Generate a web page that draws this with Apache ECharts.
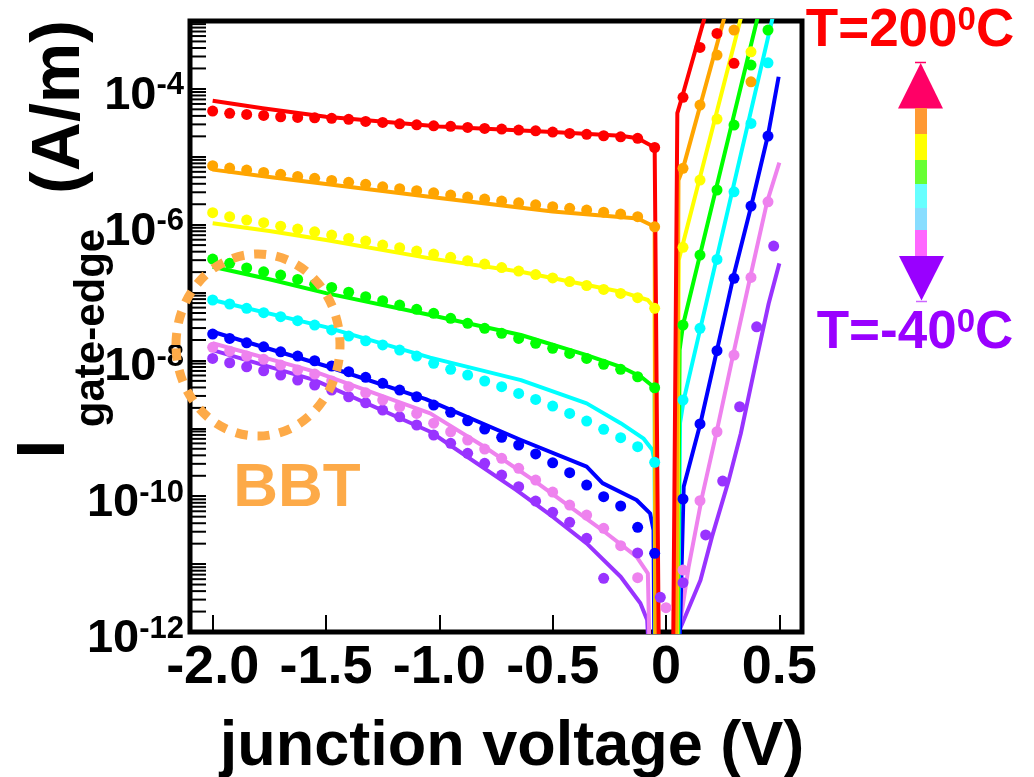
<!DOCTYPE html>
<html><head><meta charset="utf-8">
<script src="https://cdn.jsdelivr.net/npm/echarts@6/dist/echarts.min.js"></script>
<style>html,body{margin:0;padding:0;background:#fff}#c{width:1034px;height:777px}</style>
</head><body><div id="c"></div>
<script>
const FONT = "'Liberation Sans', Arial, sans-serif";
const xTickValues = [-2.0, -1.5, -1.0, -0.5, 0, 0.5];
const xTickLabels = ['-2.0', '-1.5', '-1.0', '-0.5', '0', '0.5'];
const yLabelExponents = [-4, -6, -8, -10, -12];
const minorDecades = [-12, -11, -10, -9, -8, -7, -6, -5, -4];
const minorMultipliers = [2, 3, 4, 5, 6, 7, 8, 9];

// measured voltages, reverse bias
const vRev = [-2.0, -1.925, -1.85, -1.775, -1.7, -1.625, -1.55, -1.475, -1.4, -1.325, -1.25, -1.175, -1.1, -1.025, -0.95, -0.875, -0.8, -0.725, -0.65, -0.575, -0.5, -0.425, -0.35, -0.275, -0.2, -0.125, -0.05];

// T = 200 C (red)
const red_rev = [4.71e-5, 4.36e-5, 4.21e-5, 4.07e-5, 3.88e-5, 3.80e-5, 3.75e-5, 3.68e-5, 3.56e-5, 3.32e-5, 3.21e-5, 3.06e-5, 2.96e-5, 2.86e-5, 2.81e-5, 2.71e-5, 2.62e-5, 2.56e-5, 2.47e-5, 2.41e-5, 2.31e-5, 2.21e-5, 2.14e-5, 2.04e-5, 1.97e-5, 1.87e-5, 1.37e-5];
const red_fwdV = [0.075, 0.15, 0.225, 0.3];
const red_fwdI = [7.5e-5, 4.08e-4, 6.56e-4, 2.38e-4];
const red_simV = [-2.0, -1.78, -1.5, -1.0, -0.5, -0.2, -0.125, -0.05, -0.03, 0.03, 0.05, 0.071, 0.18];
const red_simI = [6.7e-5, 5.2e-5, 3.9e-5, 2.8e-5, 2.31e-5, 2.04e-5, 1.88e-5, 1.37e-5, 1e-13, 1e-13, 4.4e-5, 7.6e-5, 1.46e-3];

// orange
const orange_rev = [7.38e-6, 6.83e-6, 6.37e-6, 5.89e-6, 5.51e-6, 5.14e-6, 4.81e-6, 4.49e-6, 4.20e-6, 3.93e-6, 3.61e-6, 3.38e-6, 3.16e-6, 2.95e-6, 2.73e-6, 2.55e-6, 2.38e-6, 2.23e-6, 2.10e-6, 1.96e-6, 1.84e-6, 1.74e-6, 1.64e-6, 1.53e-6, 1.43e-6, 1.31e-6, 9.3e-7];
const orange_fwdV = [0.075, 0.15, 0.225, 0.3, 0.375];
const orange_fwdI = [6.75e-6, 5.77e-5, 3.15e-4, 7.35e-4, 1.27e-4];
const orange_simV = [-2.0, -1.75, -1.5, -1.0, -0.5, -0.125, -0.05, -0.045, 0.045, 0.055, 0.075, 0.27];
const orange_simI = [6.47e-6, 5.03e-6, 3.96e-6, 2.47e-6, 1.56e-6, 1.23e-6, 9.3e-7, 1e-13, 1e-13, 4.5e-6, 6.75e-6, 1.6e-3];

// yellow
const yellow_rev = [1.50e-6, 1.31e-6, 1.17e-6, 1.07e-6, 9.5e-7, 8.6e-7, 7.85e-7, 7.03e-7, 6.28e-7, 5.73e-7, 5.01e-7, 4.57e-7, 4.08e-7, 3.69e-7, 3.30e-7, 2.94e-7, 2.63e-7, 2.33e-7, 2.07e-7, 1.84e-7, 1.64e-7, 1.45e-7, 1.27e-7, 1.11e-7, 9.7e-8, 8.4e-8, 5.85e-8];
const yellow_fwdV = [0.075, 0.15, 0.225, 0.375];
const yellow_fwdI = [4.64e-7, 4.54e-6, 3.59e-5, 3.52e-4];
const yellow_simV = [-2.0, -1.75, -1.5, -1.04, -0.64, -0.2, -0.08, -0.05, -0.045, 0.048, 0.056, 0.34];
const yellow_simI = [1.05e-6, 8.05e-7, 5.93e-7, 3.19e-7, 2.02e-7, 1.03e-7, 7.76e-8, 5.85e-8, 1e-13, 1e-13, 3.0e-7, 1.48e-3];

// green
const green_rev = [3.11e-7, 2.70e-7, 2.30e-7, 2.02e-7, 1.81e-7, 1.56e-7, 1.32e-7, 1.19e-7, 1.01e-7, 8.67e-8, 7.57e-8, 6.55e-8, 5.66e-8, 4.94e-8, 4.17e-8, 3.52e-8, 2.97e-8, 2.51e-8, 2.11e-8, 1.79e-8, 1.51e-8, 1.27e-8, 1.07e-8, 8.77e-9, 7.40e-9, 5.75e-9, 3.96e-9];
const green_fwdV = [0.075, 0.15, 0.225, 0.3, 0.375, 0.45];
const green_fwdI = [3.32e-8, 3.56e-7, 3.24e-6, 2.93e-5, 2.24e-4, 7.35e-4];
const green_simV = [-2.0, -1.75, -1.5, -1.04, -0.64, -0.35, -0.2, -0.11, -0.05, -0.046, 0.05, 0.06, 0.075, 0.41];
const green_simI = [2.40e-7, 1.57e-7, 9.8e-8, 4.67e-8, 2.37e-8, 1.20e-8, 8.07e-9, 5.75e-9, 3.96e-9, 1e-13, 1e-13, 1.42e-8, 3.32e-8, 1.35e-3];

// cyan
const cyan_rev = [7.77e-8, 6.78e-8, 5.85e-8, 5.05e-8, 4.41e-8, 3.85e-8, 3.32e-8, 2.81e-8, 2.29e-8, 1.95e-8, 1.69e-8, 1.42e-8, 1.16e-8, 9.06e-9, 7.40e-9, 6.10e-9, 4.98e-9, 4.10e-9, 3.27e-9, 2.67e-9, 2.13e-9, 1.66e-9, 1.28e-9, 9.66e-10, 7.28e-10, 5.36e-10, 3.16e-10];
const cyan_fwdV = [0.075, 0.15, 0.225, 0.3, 0.375, 0.45];
const cyan_fwdI = [2.61e-9, 2.97e-8, 3.08e-7, 3.05e-6, 3.10e-5, 2.42e-4];
const cyan_simV = [-2.0, -1.5, -1.04, -0.64, -0.35, -0.2, -0.1, -0.06, -0.05, -0.047, 0.052, 0.062, 0.078, 0.475];
const cyan_simI = [7.77e-8, 3.1e-8, 1.10e-8, 5.14e-9, 2.33e-9, 1.19e-9, 7.13e-10, 4.79e-10, 3.16e-10, 1e-13, 1e-13, 1.2e-9, 2.6e-9, 1.3e-3];

// blue
const blue_rev = [2.45e-8, 2.11e-8, 1.82e-8, 1.59e-8, 1.34e-8, 1.16e-8, 9.9e-9, 8.28e-9, 6.83e-9, 5.64e-9, 4.60e-9, 3.66e-9, 2.92e-9, 2.20e-9, 1.72e-9, 1.29e-9, 9.77e-10, 7.36e-10, 5.68e-10, 4.19e-10, 3.11e-10, 2.22e-10, 1.46e-10, 9.84e-11, 7.18e-11, 3.48e-11, 1.44e-11];
const blue_fwdV = [0.075, 0.15, 0.225, 0.3, 0.375, 0.45];
const blue_fwdI = [9.1e-11, 1.16e-9, 1.39e-8, 1.62e-7, 1.88e-6, 2.02e-5];
const blue_simV = [-2.0, -1.5, -1.06, -0.64, -0.35, -0.28, -0.13, -0.07, -0.055, -0.05, 0.054, 0.078, 0.152, 0.225, 0.299, 0.377, 0.45, 0.497];
const blue_simI = [2.65e-8, 8.28e-9, 2.70e-9, 6.73e-10, 2.72e-10, 1.56e-10, 8.79e-11, 5.60e-11, 3.18e-11, 1e-13, 1e-13, 1.38e-10, 1.19e-9, 1.42e-8, 1.81e-7, 1.95e-6, 2.09e-5, 1.51e-4];

// violet
const violet_rev = [1.56e-8, 1.37e-8, 1.16e-8, 1.04e-8, 8.55e-9, 7.23e-9, 6.31e-9, 4.98e-9, 4.10e-9, 3.34e-9, 2.61e-9, 2.08e-9, 1.66e-9, 1.19e-9, 8.91e-10, 6.73e-10, 4.95e-10, 3.61e-10, 2.58e-10, 1.73e-10, 1.15e-10, 7.41e-11, 5.28e-11, 3.37e-11, 1.87e-11, 6.31e-12, null];
const violet_fwdV = [0.0, 0.075, 0.15, 0.225, 0.3, 0.375, 0.45];
const violet_fwdI = [2.28e-12, 8.18e-12, 8.59e-11, 8.91e-10, 1.20e-8, 1.67e-7, 2.17e-6];
const violet_simV = [-2.0, -1.55, -1.04, -0.8, -0.585, -0.28, -0.13, -0.08, -0.068, 0.052, 0.056, 0.078, 0.1, 0.159, 0.225, 0.299, 0.372, 0.446, 0.5];
const violet_simI = [1.79e-8, 6.83e-9, 1.66e-9, 5.31e-10, 1.73e-10, 3.15e-11, 1.29e-11, 7.31e-12, 1e-13, 1e-13, 1e-12, 3.0e-12, 9.2e-12, 9.8e-11, 9.4e-10, 1.34e-8, 1.71e-7, 2.17e-6, 8.2e-6];

// T = -40 C (purple)
const purple_rev = [1.07e-8, 9.25e-9, 8.07e-9, 7.05e-9, 6.10e-9, 5.14e-9, 4.35e-9, 3.66e-9, 2.92e-9, 2.38e-9, 1.86e-9, 1.48e-9, 1.12e-9, 7.96e-10, 6.01e-10, 4.28e-10, 3.05e-10, 2.05e-10, 1.38e-10, 8.49e-11, 5.79e-11, 4.13e-11, 2.40e-11, 6.18e-12, null, 1.46e-11, null];
const purple_fwdV = [-0.025, 0.075, 0.175, 0.25, 0.325, 0.4, 0.475];
const purple_fwdI = [3.24e-12, 5.32e-12, 2.69e-11, 1.67e-10, 2.08e-9, 3.13e-8, 4.84e-7];
const purple_simV = [-2.0, -1.55, -1.04, -0.66, -0.5, -0.35, -0.2, -0.113, -0.083, -0.065, 0.052, 0.056, 0.152, 0.203, 0.277, 0.33, 0.402, 0.453, 0.5];
const purple_simI = [1.42e-8, 5.14e-9, 8.91e-10, 1.23e-10, 4.99e-11, 2.02e-11, 6.52e-12, 2.65e-12, 1.50e-12, 1e-13, 1e-13, 1e-12, 5.8e-12, 2.54e-11, 1.73e-10, 8.4e-10, 1.14e-8, 6.9e-8, 2.69e-7];

function pairs(xs, ys) {
  const out = [];
  for (let i = 0; i < xs.length; i++) if (ys[i] != null) out.push([xs[i], ys[i]]);
  return out;
}

const curves = [
  { name: 'T=-40°C', color: '#9933FF', simV: purple_simV, simI: purple_simI, rev: purple_rev, fwdV: purple_fwdV, fwdI: purple_fwdI },
  { name: 'violet', color: '#EE82EE', simV: violet_simV, simI: violet_simI, rev: violet_rev, fwdV: violet_fwdV, fwdI: violet_fwdI },
  { name: 'blue', color: '#0000FF', simV: blue_simV, simI: blue_simI, rev: blue_rev, fwdV: blue_fwdV, fwdI: blue_fwdI },
  { name: 'cyan', color: '#00FFFF', simV: cyan_simV, simI: cyan_simI, rev: cyan_rev, fwdV: cyan_fwdV, fwdI: cyan_fwdI },
  { name: 'green', color: '#00FF00', simV: green_simV, simI: green_simI, rev: green_rev, fwdV: green_fwdV, fwdI: green_fwdI },
  { name: 'yellow', color: '#FFFF00', simV: yellow_simV, simI: yellow_simI, rev: yellow_rev, fwdV: yellow_fwdV, fwdI: yellow_fwdI },
  { name: 'orange', color: '#FFA500', simV: orange_simV, simI: orange_simI, rev: orange_rev, fwdV: orange_fwdV, fwdI: orange_fwdI },
  { name: 'T=200°C', color: '#FF0000', simV: red_simV, simI: red_simI, rev: red_rev, fwdV: red_fwdV, fwdI: red_fwdI }
];

const series = [];
curves.forEach(c => series.push({
  type: 'line', name: c.name + ' sim', data: pairs(c.simV, c.simI),
  showSymbol: false, symbol: 'none', clip: true, silent: true, z: 2, smooth: false,
  lineStyle: { color: c.color, width: 4, join: 'round' }
}));
curves.forEach(c => series.push({
  type: 'scatter', name: c.name, data: pairs(vRev, c.rev).concat(pairs(c.fwdV, c.fwdI)),
  symbol: 'circle', symbolSize: 11, clip: true, silent: true, z: 3,
  itemStyle: { color: c.color, opacity: 1 }
}));

const minorTickData = [];
minorDecades.forEach(e => minorMultipliers.forEach(m => minorTickData.push([-2.1, m * Math.pow(10, e)])));
series.push({
  type: 'custom', name: 'minor ticks', data: minorTickData, silent: true, z: 5, clip: false,
  renderItem: (params, api) => {
    const p = api.coord([api.value(0), api.value(1)]);
    return { type: 'line', shape: { x1: p[0], y1: p[1], x2: p[0] + 16, y2: p[1] }, style: { stroke: '#000', lineWidth: 2 } };
  }
});

const ORANGE_NOTE = '#FDAA48';
const option = {
  animation: false,
  backgroundColor: '#fff',
  grid: { left: 190, top: 21, width: 612, height: 611, show: true, borderColor: '#000', borderWidth: 5, backgroundColor: 'transparent', containLabel: false, outerBoundsMode: 'none' },
  xAxis: {
    type: 'value', min: -2.1, max: 0.6,
    name: 'junction voltage (V)', nameLocation: 'middle', nameGap: 84,
    nameTextStyle: { fontFamily: FONT, fontWeight: 'bold', fontSize: 63, color: '#000', padding: [0, 0, 0, 32] },
    axisLine: { show: false, onZero: false },
    splitLine: { show: false },
    axisTick: { show: true, inside: true, length: 17, customValues: xTickValues, lineStyle: { color: '#000', width: 2 } },
    axisLabel: {
      customValues: xTickValues, margin: 9,
      fontFamily: FONT, fontWeight: 'bold', fontSize: 54, color: '#000',
      formatter: v => { const i = xTickValues.findIndex(t => Math.abs(t - v) < 1e-9); return i >= 0 ? xTickLabels[i] : ''; }
    }
  },
  yAxis: {
    type: 'log', logBase: 10, min: 1e-12, max: 1e-3, splitNumber: 9,
    axisLine: { show: false, onZero: false },
    splitLine: { show: false },
    axisTick: { show: true, inside: true, length: 16, lineStyle: { color: '#000', width: 2 } },
    axisLabel: {
      margin: 6,
      formatter: v => { const e = Math.round(Math.log10(v)); return yLabelExponents.indexOf(e) >= 0 ? '{b|10}{s|' + e + '}' : ''; },
      rich: {
        b: { fontFamily: FONT, fontWeight: 'bold', fontSize: 47, color: '#000', padding: [14, 0, 0, 0] },
        s: { fontFamily: FONT, fontWeight: 'bold', fontSize: 31, color: '#000', verticalAlign: 'top', padding: [12, 0, 0, 0] }
      }
    }
  },
  graphic: [
    { type: 'text', x: 45, y: 449, rotation: Math.PI / 2, z: 100,
      style: { text: 'I', fontFamily: FONT, fontWeight: 'bold', fontSize: 68, fill: '#000', align: 'center', verticalAlign: 'middle' } },
    { type: 'text', x: 92, y: 328, rotation: Math.PI / 2, z: 100,
      style: { text: 'gate-edge', fontFamily: FONT, fontWeight: 'bold', fontSize: 42, fill: '#000', align: 'center', verticalAlign: 'middle' } },
    { type: 'text', x: 60, y: 107, rotation: Math.PI / 2, z: 100,
      style: { text: '(A/m)', fontFamily: FONT, fontWeight: 'bold', fontSize: 68, fill: '#000', align: 'center', verticalAlign: 'middle' } },
    { type: 'ellipse', z: 100, shape: { cx: 258, cy: 345, rx: 82, ry: 91 },
      style: { fill: 'none', stroke: ORANGE_NOTE, lineWidth: 9, lineDash: [12, 10] } },
    { type: 'text', x: 297, y: 489, z: 100,
      style: { text: 'BBT', fontFamily: FONT, fontWeight: 'bold', fontSize: 62, fill: ORANGE_NOTE, align: 'center', verticalAlign: 'middle' } },
    { type: 'text', x: 910, y: 31, z: 100,
      style: { text: '{a|T=200}{s|0}{a|C}', align: 'center', verticalAlign: 'middle',
        rich: { a: { fontFamily: FONT, fontWeight: 'bold', fontSize: 53, fill: '#FF0000' },
                s: { fontFamily: FONT, fontWeight: 'bold', fontSize: 33, fill: '#FF0000', verticalAlign: 'top' } } } },
    { type: 'text', x: 915, y: 333, z: 100,
      style: { text: '{a|T=-40}{s|0}{a|C}', align: 'center', verticalAlign: 'middle',
        rich: { a: { fontFamily: FONT, fontWeight: 'bold', fontSize: 53, fill: '#9900FF' },
                s: { fontFamily: FONT, fontWeight: 'bold', fontSize: 33, fill: '#9900FF', verticalAlign: 'top' } } } },
    { type: 'line', z: 100, shape: { x1: 915, y1: 62.5, x2: 926, y2: 62.5 }, style: { stroke: '#FF0066', lineWidth: 1.5 } },
    { type: 'polygon', z: 100, shape: { points: [[920.7, 63], [898, 108.5], [943, 108.5]] }, style: { fill: '#FF0066' } },
    { type: 'rect', z: 100, shape: { x: 915, y: 108, width: 12, height: 26 }, style: { fill: '#FF9933' } },
    { type: 'rect', z: 100, shape: { x: 915, y: 134, width: 12, height: 26 }, style: { fill: '#FFFF00' } },
    { type: 'rect', z: 100, shape: { x: 915, y: 160, width: 12, height: 24 }, style: { fill: '#66FF33' } },
    { type: 'rect', z: 100, shape: { x: 915, y: 184, width: 12, height: 24 }, style: { fill: '#66FFFF' } },
    { type: 'rect', z: 100, shape: { x: 915, y: 208, width: 12, height: 22 }, style: { fill: '#88DDFF' } },
    { type: 'rect', z: 100, shape: { x: 915, y: 230, width: 12, height: 27 }, style: { fill: '#FF66FF' } },
    { type: 'polygon', z: 100, shape: { points: [[899, 256], [944, 256], [921.5, 300.5]] }, style: { fill: '#9900FF' } },
    { type: 'line', z: 100, shape: { x1: 916, y1: 301.5, x2: 927, y2: 301.5 }, style: { stroke: '#CC66FF', lineWidth: 1.5 } }
  ],
  series: series
};
const chart = echarts.init(document.getElementById('c'));
chart.setOption(option);
</script>
</body></html>
